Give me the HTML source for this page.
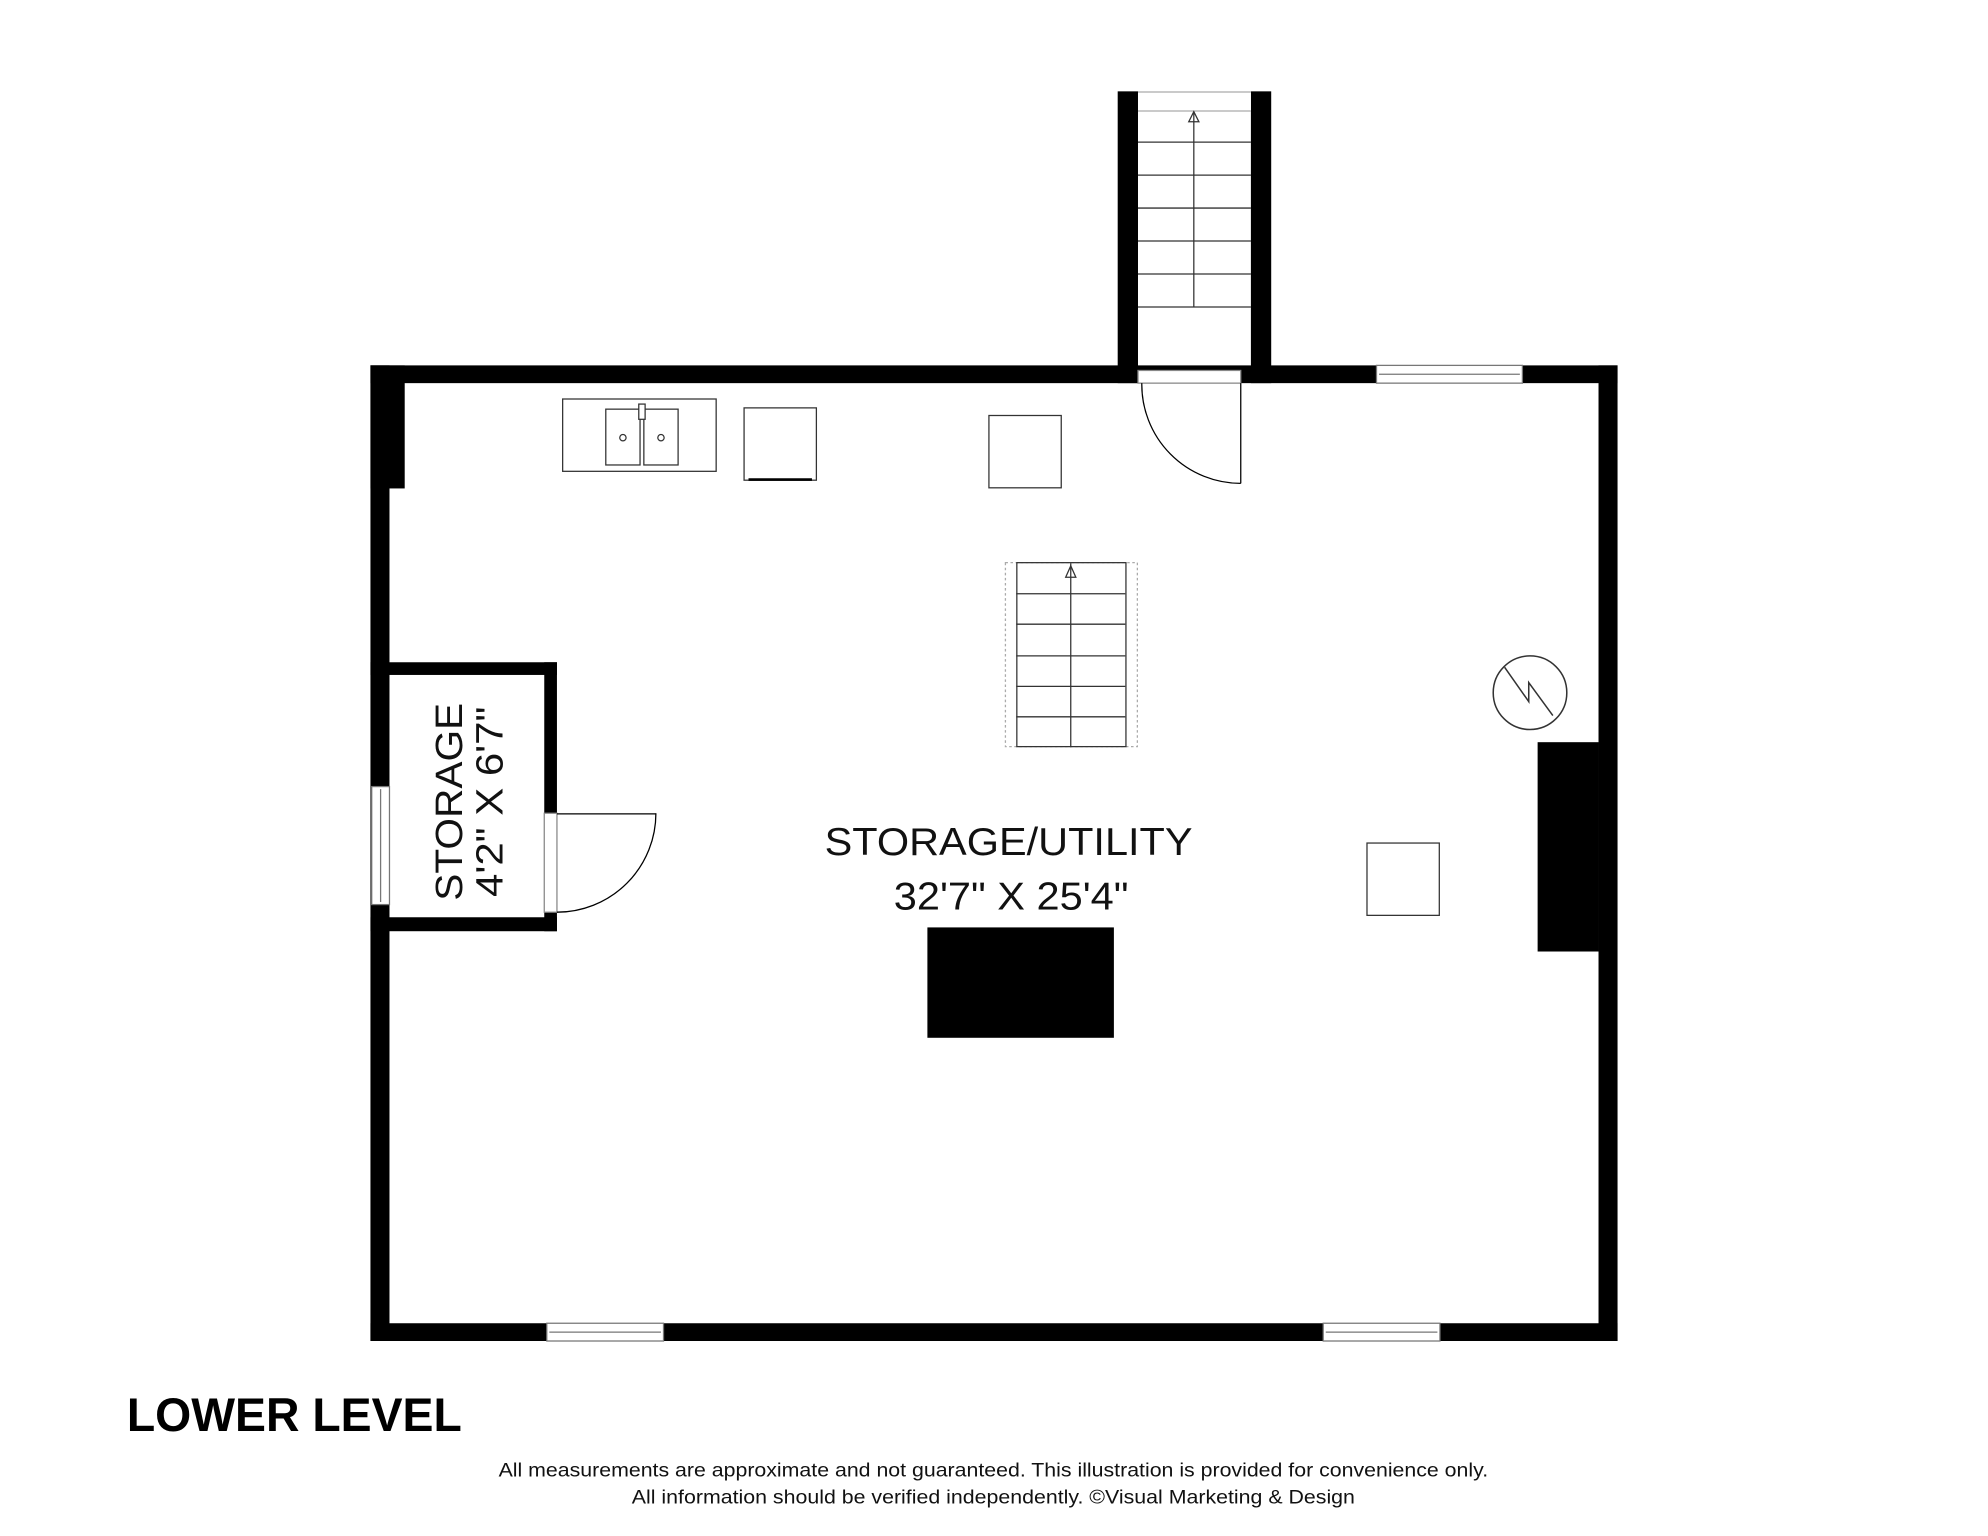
<!DOCTYPE html>
<html><head><style>
html,body{margin:0;padding:0;background:#fff;}
svg{display:block;}
</style></head><body>
<svg width="1988" height="1536" viewBox="0 0 1567 1210.7" preserveAspectRatio="none" xmlns="http://www.w3.org/2000/svg">
<rect width="1567" height="1211" fill="#fff"/>
<!-- outer walls -->
<rect x="292" y="288" width="983" height="14" fill="#000"/>
<rect x="292" y="1043" width="983" height="14" fill="#000"/>
<rect x="292" y="288" width="15" height="769" fill="#000"/>
<rect x="1260" y="288" width="15" height="769" fill="#000"/>
<rect x="292" y="288" width="27" height="97" fill="#000"/>
<!-- stairwell walls -->
<rect x="881" y="72" width="16" height="230" fill="#000"/>
<rect x="986" y="72" width="16" height="230" fill="#000"/>
<rect x="897" y="72" width="89" height="16" fill="#fff"/>
<line x1="897" y1="72.5" x2="986" y2="72.5" stroke="#aaa" stroke-width="1"/>
<line x1="897" y1="87.5" x2="986" y2="87.5" stroke="#aaa" stroke-width="1"/>
<g stroke="#333" stroke-width="1" fill="none">
<line x1="897" y1="112" x2="986" y2="112"/>
<line x1="897" y1="138" x2="986" y2="138"/>
<line x1="897" y1="164" x2="986" y2="164"/>
<line x1="897" y1="190" x2="986" y2="190"/>
<line x1="897" y1="216" x2="986" y2="216"/>
<line x1="897" y1="242" x2="986" y2="242"/>
<line x1="941" y1="88" x2="941" y2="242"/>
<path d="M937 96 L941 88 L945 96 Z"/>
</g>
<!-- top door opening -->
<rect x="897" y="292" width="81" height="10" fill="#fff" stroke="#888" stroke-width="1"/>
<g stroke="#000" stroke-width="1" fill="none">
<line x1="978" y1="302" x2="978" y2="381"/>
<path d="M900 302 A78 78 0 0 0 978 381"/>
</g>
<!-- top window -->
<rect x="1085" y="288" width="115" height="14" fill="#fff" stroke="#777" stroke-width="1"/>
<line x1="1087" y1="295" x2="1198" y2="295" stroke="#777"/>
<!-- sink & boxes -->
<g stroke="#333" stroke-width="1" fill="none">
<rect x="443.5" y="314.5" width="121" height="57"/>
<rect x="477.5" y="322.5" width="27" height="44"/>
<rect x="507.5" y="322.5" width="27" height="44"/>
<circle cx="491" cy="345" r="2.5"/>
<circle cx="521" cy="345" r="2.5"/>
<rect x="503.5" y="318.5" width="5" height="12" fill="#fff"/>
<rect x="586.5" y="321.5" width="57" height="57"/>
<rect x="779.5" y="327.5" width="57" height="57"/>
<rect x="1077.5" y="664.5" width="57" height="57"/>
</g>
<line x1="590" y1="378" x2="640" y2="378" stroke="#000" stroke-width="2"/>
<!-- center stairs -->
<rect x="792.5" y="443.5" width="104" height="145" fill="none" stroke="#aaa" stroke-width="1" stroke-dasharray="2 2"/>
<g stroke="#333" stroke-width="1" fill="none">
<rect x="801.5" y="443.5" width="86" height="145"/>
<line x1="801" y1="468" x2="887" y2="468"/>
<line x1="801" y1="492" x2="887" y2="492"/>
<line x1="801" y1="517" x2="887" y2="517"/>
<line x1="801" y1="541" x2="887" y2="541"/>
<line x1="801" y1="565" x2="887" y2="565"/>
<line x1="844" y1="444" x2="844" y2="589"/>
<path d="M840 455 L844 446 L848 455 Z"/>
</g>
<g stroke="#333" stroke-width="1.2" fill="none">
<circle cx="1206" cy="546" r="29"/>
<path d="M1186 526 L1205 553 L1205 538 L1224 564"/>
</g>
<rect x="1212" y="585" width="48" height="165" fill="#000"/>
<rect x="731" y="731" width="147" height="87" fill="#000"/>
<!-- closet -->
<rect x="292" y="522" width="147" height="10" fill="#000"/>
<rect x="292" y="723" width="147" height="11" fill="#000"/>
<rect x="429" y="522" width="10" height="212" fill="#000"/>
<rect x="429" y="641" width="10" height="78" fill="#fff" stroke="#888" stroke-width="1"/>
<g stroke="#000" stroke-width="1" fill="none">
<line x1="439" y1="641.5" x2="517" y2="641.5"/>
<path d="M517 641 A78 78 0 0 1 439 719"/>
</g>
<rect x="293" y="620" width="14" height="93" fill="#fff" stroke="#777" stroke-width="1"/>
<line x1="300" y1="622" x2="300" y2="711" stroke="#777"/>
<!-- bottom windows -->
<rect x="431" y="1043" width="92" height="14" fill="#fff" stroke="#777" stroke-width="1"/>
<line x1="433" y1="1050" x2="521" y2="1050" stroke="#777"/>
<rect x="1043" y="1043" width="92" height="14" fill="#fff" stroke="#777" stroke-width="1"/>
<line x1="1045" y1="1050" x2="1133" y2="1050" stroke="#777"/>
<!-- texts -->
<g font-family="Liberation Sans, sans-serif" fill="#111">
<text x="795" y="674" font-size="31" text-anchor="middle" textLength="290" lengthAdjust="spacingAndGlyphs">STORAGE/UTILITY</text>
<text x="797" y="717" font-size="31" text-anchor="middle" textLength="185" lengthAdjust="spacingAndGlyphs">32'7" X 25'4"</text>
<g transform="translate(368,632) rotate(-90)">
<text x="0" y="-4" font-size="30" text-anchor="middle" textLength="156" lengthAdjust="spacingAndGlyphs">STORAGE</text>
<text x="0" y="28" font-size="30" text-anchor="middle" textLength="150" lengthAdjust="spacingAndGlyphs">4'2" X 6'7"</text>
</g>
<text x="100" y="1128" font-size="37" font-weight="bold" fill="#000" textLength="264" lengthAdjust="spacingAndGlyphs">LOWER LEVEL</text>
<text x="783" y="1164" font-size="15" text-anchor="middle" textLength="780" lengthAdjust="spacingAndGlyphs">All measurements are approximate and not guaranteed. This illustration is provided for convenience only.</text>
<text x="783" y="1185" font-size="15" text-anchor="middle" textLength="570" lengthAdjust="spacingAndGlyphs">All information should be verified independently. ©Visual Marketing &amp; Design</text>
</g>
</svg>
</body></html>
